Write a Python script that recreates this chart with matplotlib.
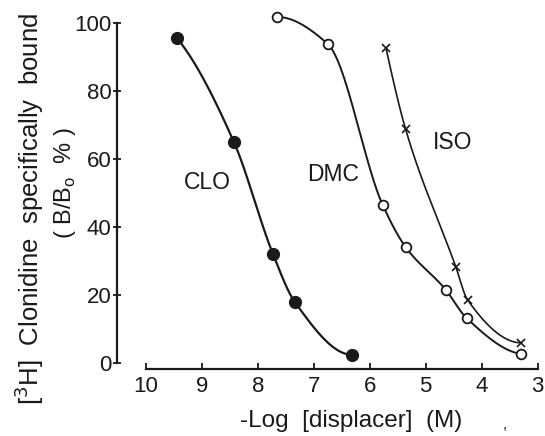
import numpy as np
import matplotlib
matplotlib.use("Agg")
import matplotlib.pyplot as plt

plt.rcParams['font.family'] = ['Liberation Sans', 'DejaVu Sans']

# Data
clo_x = [9.45, 8.43, 7.73, 7.34, 6.32]
clo_y = [95.6, 65.0, 32.0, 17.9, 2.4]
dmc_x = [7.66, 6.75, 5.77, 5.36, 4.64, 4.27, 3.29]
dmc_y = [101.8, 93.8, 46.5, 34.1, 21.5, 13.2, 2.6]
iso_x = [5.71, 5.36, 4.46, 4.25, 3.29]
iso_y = [92.6, 68.8, 28.2, 18.5, 5.9]
xticks = [10, 9, 8, 7, 6, 5, 4, 3]
yticks = [0, 20, 40, 60, 80, 100]


def pchip_curve(x, y, n=300):
    """Monotone cubic curve through the given points (for a smooth line)."""
    x = np.asarray(x, float)
    y = np.asarray(y, float)
    order = np.argsort(x)
    x, y = x[order], y[order]
    h = np.diff(x)
    d = np.diff(y) / h
    m = np.zeros_like(x)
    for k in range(1, len(x) - 1):
        if d[k - 1] * d[k] > 0:
            w1 = 2 * h[k] + h[k - 1]
            w2 = h[k] + 2 * h[k - 1]
            m[k] = (w1 + w2) / (w1 / d[k - 1] + w2 / d[k])
    # three-point end slopes
    for (e, i0, i1) in [(0, 0, 1), (-1, -1, -2)]:
        hh0, hh1 = (h[0], h[1]) if e == 0 else (h[-1], h[-2])
        dd0, dd1 = (d[0], d[1]) if e == 0 else (d[-1], d[-2])
        s = ((2 * hh0 + hh1) * dd0 - hh0 * dd1) / (hh0 + hh1)
        if np.sign(s) != np.sign(dd0):
            s = 0.0
        elif np.sign(dd0) != np.sign(dd1) and abs(s) > abs(3 * dd0):
            s = 3 * dd0
        m[e] = s
    xs = np.linspace(x[0], x[-1], n)
    idx = np.clip(np.searchsorted(x, xs) - 1, 0, len(x) - 2)
    t = (xs - x[idx]) / h[idx]
    h00 = 2 * t**3 - 3 * t**2 + 1
    h10 = t**3 - 2 * t**2 + t
    h01 = -2 * t**3 + 3 * t**2
    h11 = t**3 - t**2
    ys = h00 * y[idx] + h10 * h[idx] * m[idx] + h01 * y[idx + 1] + h11 * h[idx] * m[idx + 1]
    return xs, ys


fig = plt.figure(figsize=(5.45, 4.36), dpi=100)
ax = fig.add_axes([117 / 545, (436 - 369) / 436, (542 - 117) / 545, (369 - 23) / 436])

col = '#1a1a1a'
for xs, ys, lw in [(clo_x, clo_y, 1.6), (dmc_x, dmc_y, 1.4), (iso_x, iso_y, 1.2)]:
    cx, cy = pchip_curve(xs, ys)
    ax.plot(cx, cy, color=col, lw=lw, clip_on=False, zorder=2)

ax.plot(clo_x, clo_y, 'o', color=col, ms=8.5, clip_on=False, zorder=3)
ax.plot(dmc_x, dmc_y, 'o', mfc='white', mec=col, mew=1.3, ms=7, clip_on=False, zorder=3)
ax.plot(iso_x, iso_y, 'x', color=col, mew=1.2, ms=6, clip_on=False, zorder=3)

ax.text(8.91, 53, 'CLO', fontsize=16.5, ha='center', va='center', color=col)
ax.text(6.66, 55.3, 'DMC', fontsize=16.5, ha='center', va='center', color=col)
ax.text(4.52, 64.7, 'ISO', fontsize=16.5, ha='center', va='center', color=col)

ax.set_xlim(10.52, 2.92)
ax.set_ylim(-1.8, 100)
ax.set_xticks(xticks)
ax.set_yticks(yticks)
ax.set_xticklabels([str(v) for v in xticks], fontsize=16, color=col)
ax.set_yticklabels([str(v) for v in yticks], fontsize=16, color=col)
ax.tick_params(axis='x', direction='in', length=4, width=1.3, pad=5, colors=col)
ax.tick_params(axis='y', direction='inout', length=6, width=1.3, pad=1, colors=col)

for s in ['top', 'right']:
    ax.spines[s].set_visible(False)
ax.spines['left'].set_bounds(0, 100)
ax.spines['bottom'].set_bounds(3, 10)
for s in ['left', 'bottom']:
    ax.spines[s].set_linewidth(1.6)
    ax.spines[s].set_color(col)

fig.text(351 / 545, 1 - 421 / 436, '-Log  [displacer]  (M)',
         ha='center', va='center', fontsize=17.5, color=col)
fig.text(29 / 545, 1 - 209 / 436, r'[$^{3}$H]  Clonidine  specifically  bound',
         rotation=90, ha='center', va='center', fontsize=18.5, color=col)
fig.text(65 / 545, 1 - 183 / 436, r'( B/B$_{\mathregular{o}}$  % )',
         rotation=90, ha='center', va='center', fontsize=17, color=col)
fig.text(505 / 545, 1 - 425 / 436, ',', fontsize=11, ha='center', va='center', color=col)

fig.savefig('out.png', dpi=100)
